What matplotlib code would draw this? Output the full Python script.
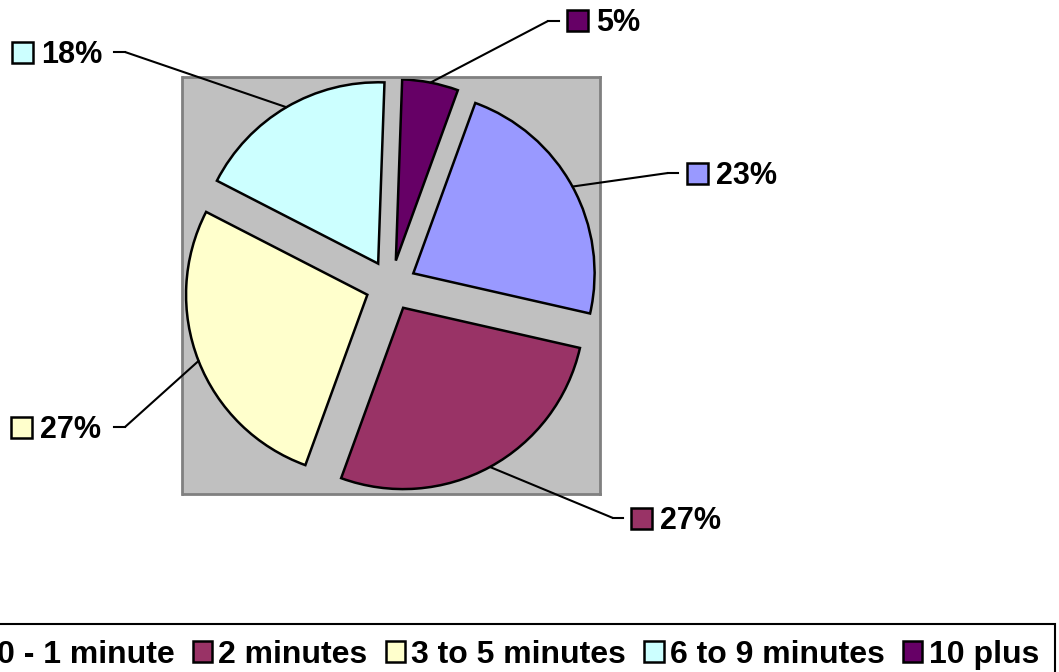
import numpy as np
import matplotlib
matplotlib.use("Agg")
import matplotlib.pyplot as plt
from matplotlib.patches import Rectangle, ConnectionPatch
from matplotlib.lines import Line2D

# data
categories = ["0 - 1 minute", "2 minutes", "3 to 5 minutes", "6 to 9 minutes", "10 plus"]
shares = [23, 27, 27, 18, 5]
colors = ["#9999FF", "#993366", "#FFFFCC", "#CCFFFF", "#660066"]

# label layout in figure pixels, measured from the top-left corner
label_boxes = [(687, 163), (631, 508), (11, 417), (12, 42), (567, 10)]
leader_elbows = [(668, 173), (613, 518), (125, 427), (125, 52), (548, 21)]
leader_ends = [(678, 173), (623, 518), (114, 427), (114, 52), (559, 21)]

W, H = 1059, 672
plt.rcParams['font.family'] = ['Liberation Sans', 'DejaVu Sans']

fig = plt.figure(figsize=(W / 100, H / 100), dpi=100)
ax = fig.add_axes([182 / W, 1 - 494 / H, 418 / W, 417 / H])

wedges, _ = ax.pie(shares, colors=colors, startangle=70, counterclock=False,
                   explode=[0.14] * len(shares),
                   wedgeprops=dict(edgecolor='black', linewidth=1.8))
ax.set_xlim(-1.15, 1.15)
ax.set_ylim(-1.15, 1.15)
ax.set_frame_on(True)
ax.set_facecolor('#C0C0C0')
for s in ax.spines.values():
    s.set_edgecolor('#808080')
    s.set_linewidth(2)
ax.set_xticks([])
ax.set_yticks([])

total = sum(shares)
for w, v, box, elbow, end in zip(wedges, shares, label_boxes, leader_elbows, leader_ends):
    # leader line: from the middle of the wedge's arc to the label
    mid = np.deg2rad((w.theta1 + w.theta2) / 2)
    cx, cy = w.center
    arc = (cx + w.r * np.cos(mid), cy + w.r * np.sin(mid))
    con = ConnectionPatch(xyA=(elbow[0], H - elbow[1]), coordsA='figure pixels',
                          xyB=arc, coordsB=ax.transData,
                          arrowstyle='-', color='black', lw=1.5)
    fig.add_artist(con)
    fig.add_artist(Line2D([elbow[0] / W, end[0] / W], [1 - elbow[1] / H, 1 - end[1] / H],
                          color='black', lw=1.5, transform=fig.transFigure))

    bx, by = box
    fig.add_artist(Rectangle((bx / W, 1 - (by + 21) / H), 21 / W, 21 / H,
                             transform=fig.transFigure, facecolor=w.get_facecolor(),
                             edgecolor='black', lw=1.8))
    fig.text((bx + 29) / W, 1 - (by + 21) / H, f"{v / total:.0%}",
             fontsize=22, fontweight='bold', va='baseline', ha='left')

leg = fig.legend(wedges, categories, ncol=5, loc='upper right',
                 bbox_to_anchor=(1055 / W, 1 - 624 / H),
                 prop=dict(size=23, weight='bold'), frameon=True, fancybox=False,
                 edgecolor='black', handlelength=0.6, handleheight=0.62,
                 handletextpad=0.2, columnspacing=0.57, borderpad=0.5,
                 borderaxespad=0)
leg.get_frame().set_linewidth(1.5)
leg.get_frame().set_alpha(None)

fig.savefig("out.png", dpi=100)
